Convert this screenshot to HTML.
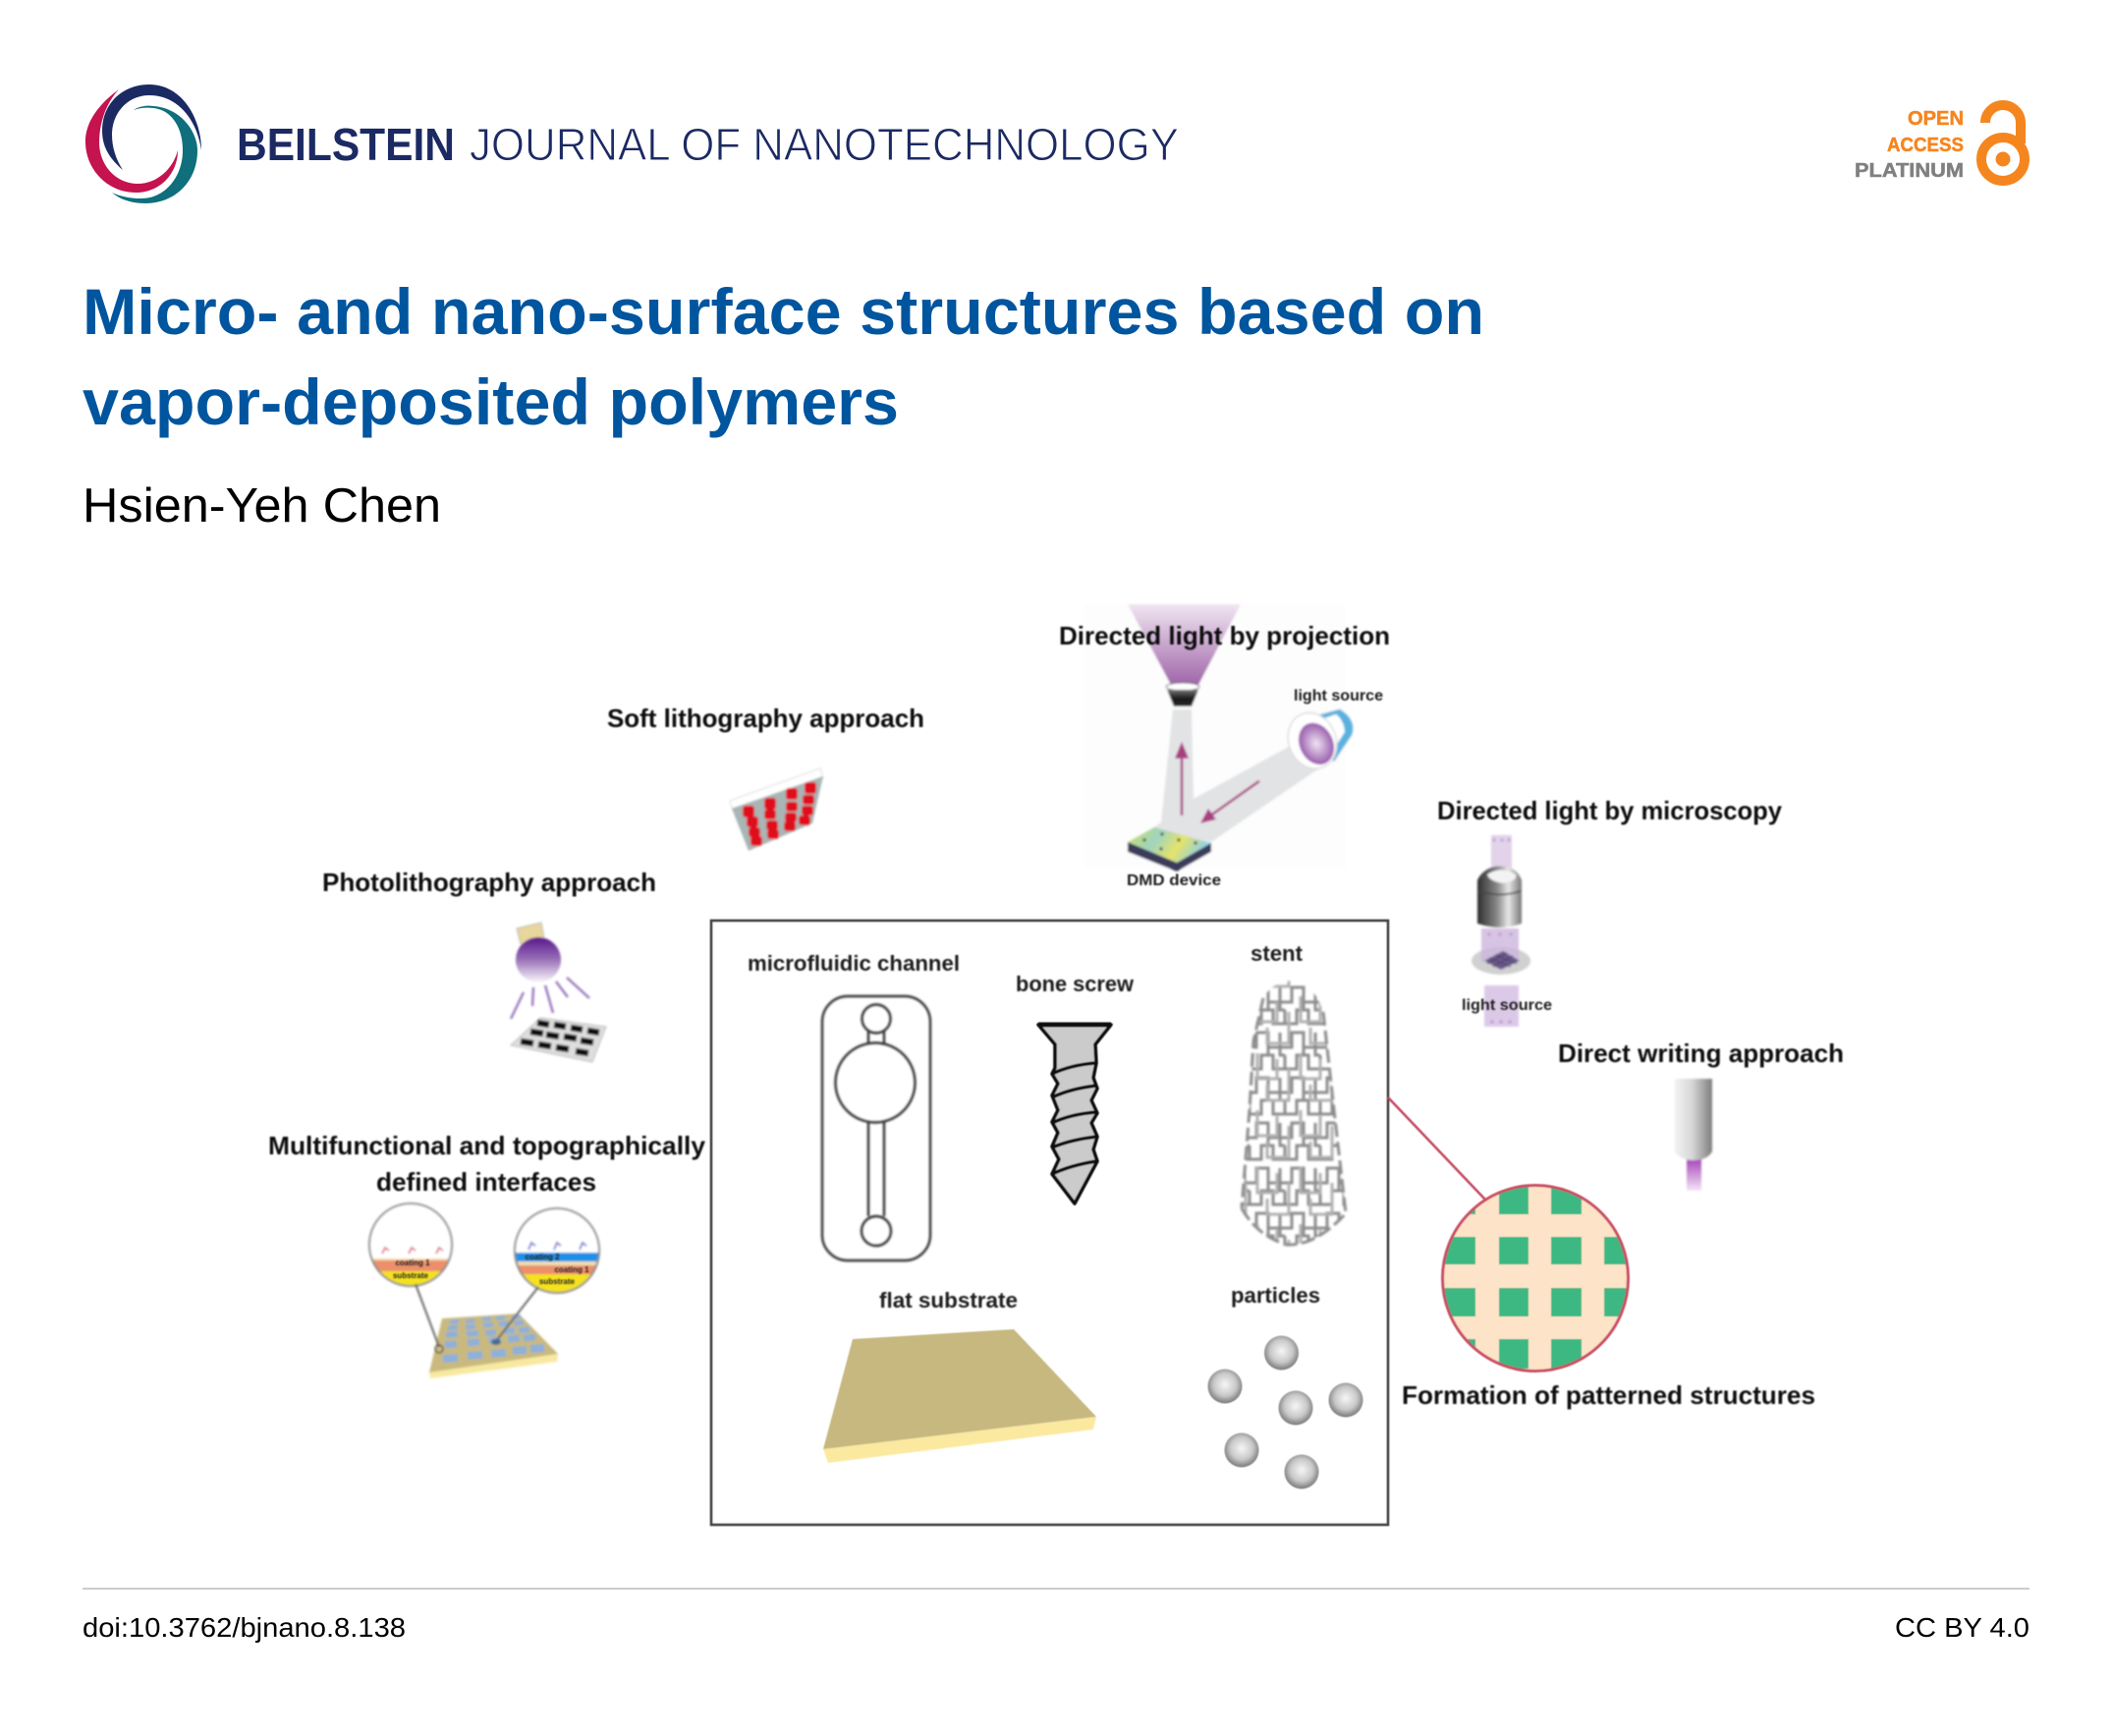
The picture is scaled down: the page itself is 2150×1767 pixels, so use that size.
<!DOCTYPE html>
<html>
<head>
<meta charset="utf-8">
<title>Micro- and nano-surface structures based on vapor-deposited polymers</title>
<style>
html,body{margin:0;padding:0;background:#fff;width:2150px;height:1767px;overflow:hidden}
svg{display:block}
text{font-family:"Liberation Sans",sans-serif}
.l{font-weight:700;font-size:26px;fill:#111}
.m{font-weight:700;font-size:22px;fill:#1c1c1c}
.s{font-weight:700;font-size:16px;fill:#1c1c1c}
</style>
</head>
<body>
<svg width="2150" height="1767" viewBox="0 0 2150 1767" xmlns="http://www.w3.org/2000/svg">
<defs>
<filter id="b1" x="-10%" y="-10%" width="120%" height="120%"><feGaussianBlur stdDeviation="1"/></filter>
<filter id="b2" x="-5%" y="-30%" width="110%" height="160%"><feGaussianBlur stdDeviation="0.7"/></filter>
<filter id="b3" x="-10%" y="-10%" width="120%" height="120%"><feGaussianBlur stdDeviation="0.5"/></filter>
<linearGradient id="bulb" x1="0" y1="0" x2="0" y2="1"><stop offset="0.05" stop-color="#5f1f8f"/><stop offset="0.5" stop-color="#9a72b8"/><stop offset="1" stop-color="#fbf8fc"/></linearGradient>
<linearGradient id="cone" x1="0" y1="0" x2="0" y2="1"><stop offset="0" stop-color="#f0e6f1"/><stop offset="1" stop-color="#a066aa"/></linearGradient>
<linearGradient id="lens" x1="0" y1="0" x2="0" y2="1"><stop offset="0" stop-color="#777"/><stop offset="0.5" stop-color="#1e1e1e"/><stop offset="1" stop-color="#222"/></linearGradient>
<linearGradient id="obj" x1="0" y1="0" x2="1" y2="0"><stop offset="0" stop-color="#2e2e2e"/><stop offset="0.45" stop-color="#8a8a8a"/><stop offset="0.7" stop-color="#e8e8e8"/><stop offset="1" stop-color="#777"/></linearGradient>
<linearGradient id="noz" x1="0" y1="0" x2="1" y2="0"><stop offset="0" stop-color="#f2f2f2"/><stop offset="0.45" stop-color="#d8d8d8"/><stop offset="1" stop-color="#7f7f7f"/></linearGradient>
<linearGradient id="jet" x1="0" y1="0" x2="0" y2="1"><stop offset="0" stop-color="#a23cb5"/><stop offset="1" stop-color="#f4e6f6"/></linearGradient>
<radialGradient id="sph" cx="0.5" cy="0.45" r="0.55"><stop offset="0" stop-color="#f6f6f6"/><stop offset="0.6" stop-color="#c8c8c8"/><stop offset="1" stop-color="#777"/></radialGradient>
<radialGradient id="lamp" cx="0.5" cy="0.5" r="0.5"><stop offset="0" stop-color="#efe5f2"/><stop offset="1" stop-color="#9a5cae"/></radialGradient>
<linearGradient id="dmd" x1="0" y1="0" x2="1" y2="0.3"><stop offset="0" stop-color="#cfe05c"/><stop offset="0.4" stop-color="#9fd4c0"/><stop offset="0.7" stop-color="#e6e36a"/><stop offset="1" stop-color="#8fd0e2"/></linearGradient>
<pattern id="st" width="36" height="46" patternUnits="userSpaceOnUse" patternTransform="translate(1264 1000)">
<path d="M3 5V20H15V5H27V20H36M0 20H3M8 28V42H20V28H32V42H36M0 42H8M3 20V28H8M27 20V28H32" fill="none" stroke="#8c8c8c" stroke-width="3"/>
</pattern>
<pattern id="st2" width="44" height="58" patternUnits="userSpaceOnUse" patternTransform="translate(1274 1010)">
<path d="M6 4V30H26V10M38 20V52H16V36" fill="none" stroke="#b0b0b0" stroke-width="3"/>
</pattern>
<clipPath id="c1"><circle cx="418" cy="1267" r="42"/></clipPath>
<clipPath id="c2"><circle cx="567" cy="1273" r="43"/></clipPath>
<clipPath id="cp"><circle cx="1563" cy="1301" r="94.5"/></clipPath>
</defs>

<!-- logo -->
<path d="M121 91C95 110 86 130 87 146C88 175 112 197 140 196C165 195 181 175 181 153C176 172 160 187 140 187C118 187 101 168 101 145C101 125 108 105 121 91Z" fill="#c4134f"/>
<path d="M125 173C110 160 104 148 104 133C104 105 125 86 152 86C185 86 205 120 205 153C200 120 180 97 152 97C130 97 114 115 114 137C114 150 118 162 125 173Z" fill="#1b2a63"/>
<path d="M136 112C142 108 150 107 156 108C185 110 201 135 201 153C201 185 178 207 148 207C134 207 122 203 114 196C122 200 133 202 144 202C168 202 186 180 186 153C186 130 175 112 156 110C148 109 142 110 136 112Z" fill="#0f6f7c"/>
<text x="241" y="163" font-size="46" font-weight="700" fill="#1b2a63" textLength="222" lengthAdjust="spacingAndGlyphs">BEILSTEIN</text>
<text x="478" y="163" font-size="46" fill="#1b2a63" stroke="#fff" stroke-width="1" textLength="722" lengthAdjust="spacingAndGlyphs">JOURNAL OF NANOTECHNOLOGY</text>

<!-- open access -->
<text x="1942" y="127" font-size="20" font-weight="700" fill="#f5861f" stroke="#f5861f" stroke-width=".5" textLength="57" lengthAdjust="spacingAndGlyphs">OPEN</text>
<text x="1921" y="154" font-size="20" font-weight="700" fill="#f5861f" stroke="#f5861f" stroke-width=".5" textLength="78" lengthAdjust="spacingAndGlyphs">ACCESS</text>
<text x="1888" y="180" font-size="20" font-weight="700" fill="#808080" stroke="#808080" stroke-width=".5" textLength="111" lengthAdjust="spacingAndGlyphs">PLATINUM</text>
<circle cx="2039" cy="162" r="22" fill="none" stroke="#f5861f" stroke-width="10"/>
<circle cx="2039" cy="162" r="7.5" fill="#f5861f"/>
<path d="M2021 125A18 18 0 0 1 2057 125V146" fill="none" stroke="#f5861f" stroke-width="10"/>

<!-- title -->
<text x="84" y="340" font-size="66" font-weight="700" fill="#00559f" textLength="1427" lengthAdjust="spacingAndGlyphs">Micro- and nano-surface structures based on</text>
<text x="84" y="432" font-size="66" font-weight="700" fill="#00559f" textLength="831" lengthAdjust="spacingAndGlyphs">vapor-deposited polymers</text>
<text x="84" y="531" font-size="49" fill="#000" textLength="365" lengthAdjust="spacingAndGlyphs">Hsien-Yeh Chen</text>

<!-- figure -->
<g filter="url(#b3)">
<rect x="724" y="937" width="689" height="615" fill="none" stroke="#3c3c3c" stroke-width="2.5"/>
<path d="M1413 1117L1512 1221" stroke="#c2485f" stroke-width="2.5" fill="none"/>
</g>
<g filter="url(#b1)">
<rect x="1105" y="615" width="265" height="270" fill="#fdfdfd"/>

<!-- soft litho stamp -->
<polygon points="743,815 835,782 838,792 745,823" fill="#fff" stroke="#ddd"/>
<polygon points="745,823 838,790 827,838 762,866" fill="#a9b5b5"/>
<g fill="#e0101c">
<rect x="756" y="820" width="12" height="12" rx="3"/><rect x="778" y="812" width="12" height="12" rx="3"/><rect x="800" y="802" width="12" height="12" rx="3"/><rect x="819" y="796" width="12" height="12" rx="3"/>
<rect x="760" y="831" width="12" height="11" rx="3"/><rect x="778" y="824" width="12" height="10" rx="3"/><rect x="800" y="816" width="12" height="10" rx="3"/><rect x="817" y="809" width="12" height="10" rx="3"/>
<rect x="762" y="842" width="12" height="10" rx="3"/><rect x="780" y="835" width="12" height="10" rx="3"/><rect x="799" y="827" width="12" height="10" rx="3"/><rect x="816" y="820" width="12" height="10" rx="3"/>
<rect x="764" y="851" width="12" height="10" rx="3"/><rect x="781" y="844" width="12" height="10" rx="3"/><rect x="798" y="836" width="12" height="10" rx="3"/><rect x="813" y="830" width="12" height="10" rx="3"/>
</g>

<!-- photolitho -->
<polygon points="526,945 551,939 554,955 530,961" fill="#e8d69c" stroke="#bbb"/>
<circle cx="548" cy="977" r="23" fill="url(#bulb)"/>
<g stroke="#9a7cc0" stroke-width="2.5" fill="none">
<path d="M533 1010L520 1037M543 1005L542 1024M555 1003L563 1031M566 999L578 1015M577 995L600 1016"/>
</g>
<polygon points="550,1036 617,1045 603,1081 520,1064" fill="#dedede" stroke="#bbb"/>
<g stroke="#111" stroke-width="6.5" fill="none">
<path d="M547 1041l12 2M564 1043l12 2M581 1046l12 2M598 1049l12 2"/>
<path d="M540 1050l13 2M556 1053l13 2M574 1055l13 2M591 1059l13 2"/>
<path d="M530 1060l13 2M548 1063l13 2M566 1066l13 2M586 1070l13 2"/>
</g>

<!-- projection -->
<polygon points="1148,615 1263,615 1220,697 1192,697" fill="url(#cone)"/>
<polygon points="1194,722 1213,722 1215,813 1312,760 1343,782 1233,857 1170,845 1182,837" fill="#e2e3e5"/>
<ellipse cx="1204" cy="699" rx="17" ry="4" fill="#fff" stroke="#666"/>
<polygon points="1188,702 1220,702 1213,719 1195,719" fill="url(#lens)"/>
<path d="M1203 830V770" stroke="#a8407f" stroke-width="2.5" fill="none"/>
<polygon points="1203,755 1196,772 1210,772" fill="#a8407f"/>
<path d="M1282 795L1234 829" stroke="#a8407f" stroke-width="2.5" fill="none"/>
<polygon points="1222,838 1238,834 1230,823" fill="#a8407f"/>
<polygon points="1148,857 1198,878 1233,858 1233,867 1198,887 1148,867" fill="#3a3a5c"/>
<polygon points="1175,842 1233,858 1198,878 1148,857" fill="url(#dmd)"/>
<g fill="#444"><circle cx="1183" cy="849" r="1.6"/><circle cx="1165" cy="855" r="1.6"/><circle cx="1200" cy="855" r="1.6"/><circle cx="1182" cy="864" r="1.6"/><circle cx="1217" cy="858" r="1.6"/></g>
<path d="M1323 733L1364 722Q1381 733 1376 748L1358 775Z" fill="#fff" stroke="#ddd"/>
<path d="M1323 733L1364 722Q1381 733 1376 748L1358 775L1353 770L1369 745Q1368 733 1360 727L1328 738Z" fill="#58b2e0"/>
<ellipse cx="1336" cy="754" rx="24" ry="29" transform="rotate(-22 1336 754)" fill="#fff" stroke="#ddd" stroke-width="1.5"/>
<ellipse cx="1340" cy="757" rx="17" ry="22" transform="rotate(-25 1340 757)" fill="url(#lamp)"/>

<!-- microscopy -->
<rect x="1518" y="850" width="21" height="34" fill="#e2d2ea"/>
<ellipse cx="1528" cy="978" rx="30" ry="14" fill="#d0d0d0"/>
<rect x="1508" y="945" width="38" height="34" fill="#cdb4dc" opacity=".8"/>
<polygon points="1511,978 1530,968 1547,978 1528,987" fill="#6a5a8a"/>
<path d="M1516 975l22 9M1522 972l22 9M1540 973l-20 11M1534 970l-20 11" stroke="#4e3f6e" stroke-width="1" fill="none"/>
<rect x="1511" y="1003" width="35" height="42" fill="#dcc9e8"/>
<g fill="#b8a2cc"><circle cx="1519" cy="1040" r="1.8"/><circle cx="1528" cy="1040" r="1.8"/><circle cx="1537" cy="1040" r="1.8"/><circle cx="1521" cy="855" r="1.6"/><circle cx="1529" cy="855" r="1.6"/><circle cx="1536" cy="855" r="1.6"/><circle cx="1516" cy="951" r="1.6"/><circle cx="1527" cy="951" r="1.6"/><circle cx="1538" cy="951" r="1.6"/></g>
<path d="M1504 896Q1508 887 1518 883Q1527 880 1537 883Q1546 887 1549 896V940Q1527 948 1504 940Z" fill="url(#obj)"/>
<path d="M1514 890Q1528 881 1543 890Q1545 897 1530 899Q1516 897 1514 890Z" fill="#f3f3f3"/>
<path d="M1505 907Q1527 914 1548 907" stroke="#444" stroke-width="1.5" fill="none"/>

<!-- direct writing -->
<rect x="1717" y="1178" width="15" height="34" fill="url(#jet)"/>
<path d="M1705 1098H1743V1172Q1738 1181 1724 1181Q1710 1181 1705 1172Z" fill="url(#noz)"/>

<!-- multifunctional -->
<circle cx="418" cy="1267" r="42" fill="#fff"/>
<g clip-path="url(#c1)">
<rect x="370" y="1281" width="100" height="13" fill="#ec8f6a"/>
<rect x="370" y="1281" width="100" height="2" fill="#f0d8a8"/>
<rect x="370" y="1294" width="100" height="20" fill="#f5e21a"/>
</g>
<circle cx="418" cy="1267" r="42" fill="none" stroke="#8a8a8a" stroke-width="2"/>
<circle cx="567" cy="1273" r="43" fill="#fff"/>
<g clip-path="url(#c2)">
<rect x="520" y="1275" width="100" height="9" fill="#1e90e6"/>
<rect x="520" y="1284" width="100" height="4" fill="#eee0b0"/>
<rect x="520" y="1288" width="100" height="9" fill="#ec8f6a"/>
<rect x="520" y="1297" width="100" height="22" fill="#f5e21a"/>
</g>
<circle cx="567" cy="1273" r="43" fill="none" stroke="#8a8a8a" stroke-width="2"/>
<g fill="none" stroke="#e07a8a" stroke-width="2"><path d="M389 1276l3-6 4 3M416 1276l3-6 4 3M444 1276l3-6 4 3"/></g>
<g fill="none" stroke="#7a7fd0" stroke-width="2"><path d="M538 1272l3-7 4 3M564 1272l3-7 4 3M590 1272l3-7 4 3"/></g>
<polygon points="437,1397 568,1378 567,1386 438,1403" fill="#f8e9a0"/>
<polygon points="450,1342 528,1337 568,1378 437,1397" fill="#c9b97f"/>
<g stroke="#8fb0d8" fill="none">
<path stroke-width="8" d="M451 1383l15-1M476 1380l15-1M500 1378l15-1M522 1375l14-1M540 1373l14-1"/>
<path stroke-width="7" d="M453 1369l12-1M476 1367l12-1M498 1365l12-1M517 1363l12-1M533 1362l12-1"/>
<path stroke-width="6" d="M454 1359l12-1M475 1358l12-1M494 1357l11-1M513 1355l11-1M528 1354l11-1"/>
<path stroke-width="5" d="M456 1352l10-1M474 1351l10-1M492 1349l10-1M508 1348l10-1M523 1347l10-1"/>
<path stroke-width="4" d="M458 1346l9-1M474 1345l9-1M491 1343l9-1M505 1342l9-1M521 1341l9-1"/>
</g>
<g fill="none" stroke="#666" stroke-width="2"><path d="M423 1307L447 1371M548 1310L505 1365"/></g>
<circle cx="447" cy="1373" r="4" fill="none" stroke="#555" stroke-width="1.5"/>
<ellipse cx="505" cy="1366" rx="5" ry="3" fill="#4a6a90"/>

<!-- chip -->
<g fill="none" stroke="#2e2e2e" stroke-width="2.4">
<rect x="837" y="1014" width="110" height="269" rx="26"/>
<path d="M884 1050V1062M900 1050V1062M884 1142V1238M900 1142V1238"/>
<circle cx="892" cy="1037" r="14.5"/>
<circle cx="891" cy="1102" r="40.5"/>
<circle cx="892" cy="1253" r="15"/>
</g>
</g>

<!-- screw -->
<g filter="url(#b3)">
<path d="M1057 1043H1131L1115 1063L1116 1082L1113 1097L1117 1108L1111 1120L1117 1133L1111 1143L1117 1157L1113 1170L1117 1182L1094 1225L1071 1195L1078 1180L1071 1167L1077 1153L1071 1142L1077 1130L1071 1115L1077 1103L1071 1093L1074 1087V1063Z" fill="#cbcbcb" stroke="#111" stroke-width="3.6" stroke-linejoin="round"/>
<path d="M1057 1043H1131" stroke="#111" stroke-width="5"/>
<path d="M1071 1093Q1090 1084 1115 1082M1071 1117Q1090 1108 1116 1105M1071 1143Q1090 1134 1116 1132M1071 1168Q1090 1160 1116 1157M1071 1195Q1090 1186 1116 1182" fill="none" stroke="#111" stroke-width="3.6"/>
</g>

<!-- stent -->
<g filter="url(#b1)">
<path d="M1286 1016L1283 1030L1276 1060L1272 1130L1268 1190L1264 1230Q1280 1258 1310 1267Q1340 1268 1370 1235L1358 1130L1347 1030Q1338 1002 1318 998Q1296 998 1286 1016Z" fill="url(#st)"/>
<path d="M1286 1016L1283 1030L1276 1060L1272 1130L1268 1190L1264 1230Q1280 1258 1310 1267Q1340 1268 1370 1235L1358 1130L1347 1030Q1338 1002 1318 998Q1296 998 1286 1016Z" fill="url(#st2)"/>
<path d="M1286 1016L1276 1060L1272 1130L1264 1230M1347 1030L1358 1130L1370 1235M1264 1230Q1280 1258 1310 1267Q1340 1268 1370 1235" fill="none" stroke="#8c8c8c" stroke-width="3" stroke-dasharray="14 5"/>
</g>

<!-- flat substrate -->
<g filter="url(#b3)">
<polygon points="838,1475 1116,1442 1113,1455 843,1489" fill="#fbe9a0"/>
<polygon points="868,1363 1032,1353 1116,1442 838,1475" fill="#c6b87f"/>
<circle cx="1304.5" cy="1377" r="17.5" fill="url(#sph)"/>
<circle cx="1247" cy="1411" r="17.5" fill="url(#sph)"/>
<circle cx="1319" cy="1433" r="17.5" fill="url(#sph)"/>
<circle cx="1370" cy="1425" r="17.5" fill="url(#sph)"/>
<circle cx="1264" cy="1476" r="17.5" fill="url(#sph)"/>
<circle cx="1325" cy="1498" r="17.5" fill="url(#sph)"/>

<!-- pattern circle -->
<circle cx="1563" cy="1301" r="94.5" fill="#fde3c8"/>
<g clip-path="url(#cp)" fill="#3cb882">
<rect x="1472" y="1208" width="30" height="28"/><rect x="1526" y="1208" width="30" height="28"/><rect x="1579" y="1208" width="31" height="28"/><rect x="1633" y="1208" width="26" height="28"/>
<rect x="1468" y="1259" width="34" height="28"/><rect x="1526" y="1259" width="30" height="28"/><rect x="1579" y="1259" width="31" height="28"/><rect x="1633" y="1259" width="26" height="28"/>
<rect x="1468" y="1311" width="34" height="29"/><rect x="1526" y="1311" width="30" height="29"/><rect x="1579" y="1311" width="31" height="29"/><rect x="1633" y="1311" width="26" height="29"/>
<rect x="1472" y="1363" width="30" height="30"/><rect x="1526" y="1363" width="30" height="30"/><rect x="1579" y="1363" width="31" height="30"/><rect x="1633" y="1363" width="26" height="30"/>
</g>
<circle cx="1563" cy="1301" r="94.5" fill="none" stroke="#c94f63" stroke-width="3"/>
</g>

<!-- labels -->
<g filter="url(#b2)">
<text class="l" x="618" y="740" textLength="323" lengthAdjust="spacingAndGlyphs">Soft lithography approach</text>
<text class="l" x="328" y="907" textLength="340" lengthAdjust="spacingAndGlyphs">Photolithography approach</text>
<text class="l" x="1078" y="656" textLength="337" lengthAdjust="spacingAndGlyphs">Directed light by projection</text>
<text class="s" x="1317" y="713" textLength="91" lengthAdjust="spacingAndGlyphs">light source</text>
<text class="s" x="1147" y="901" textLength="96" lengthAdjust="spacingAndGlyphs">DMD device</text>
<text class="l" x="1463" y="834" textLength="351" lengthAdjust="spacingAndGlyphs">Directed light by microscopy</text>
<text class="s" x="1488" y="1028" textLength="92" lengthAdjust="spacingAndGlyphs">light source</text>
<text class="l" x="1586" y="1081" textLength="291" lengthAdjust="spacingAndGlyphs">Direct writing approach</text>
<text class="l" x="273" y="1175" textLength="445" lengthAdjust="spacingAndGlyphs">Multifunctional and topographically</text>
<text class="l" x="383" y="1212" textLength="224" lengthAdjust="spacingAndGlyphs">defined interfaces</text>
<text class="l" x="1427" y="1429" textLength="421" lengthAdjust="spacingAndGlyphs">Formation of patterned structures</text>
<text class="m" x="761" y="988" textLength="216" lengthAdjust="spacingAndGlyphs">microfluidic channel</text>
<text class="m" x="1034" y="1009" textLength="120" lengthAdjust="spacingAndGlyphs">bone screw</text>
<text class="m" x="1273" y="978" textLength="53" lengthAdjust="spacingAndGlyphs">stent</text>
<text class="m" x="895" y="1331" textLength="141" lengthAdjust="spacingAndGlyphs">flat substrate</text>
<text class="m" x="1253" y="1326" textLength="91" lengthAdjust="spacingAndGlyphs">particles</text>
<text x="420" y="1288" font-size="8" font-weight="700" fill="#222" text-anchor="middle">coating 1</text>
<text x="418" y="1301" font-size="8" font-weight="700" fill="#222" text-anchor="middle">substrate</text>
<text x="552" y="1282" font-size="8" font-weight="700" fill="#222" text-anchor="middle">coating 2</text>
<text x="582" y="1295" font-size="8" font-weight="700" fill="#222" text-anchor="middle">coating 1</text>
<text x="567" y="1307" font-size="8" font-weight="700" fill="#222" text-anchor="middle">substrate</text>
</g>

<!-- footer -->
<rect x="84" y="1616" width="1982" height="2" fill="#cccccc"/>
<text x="84" y="1666" font-size="28" fill="#000" textLength="329" lengthAdjust="spacingAndGlyphs">doi:10.3762/bjnano.8.138</text>
<text x="1929" y="1666" font-size="28" fill="#000" textLength="137" lengthAdjust="spacingAndGlyphs">CC BY 4.0</text>
</svg>
</body>
</html>
